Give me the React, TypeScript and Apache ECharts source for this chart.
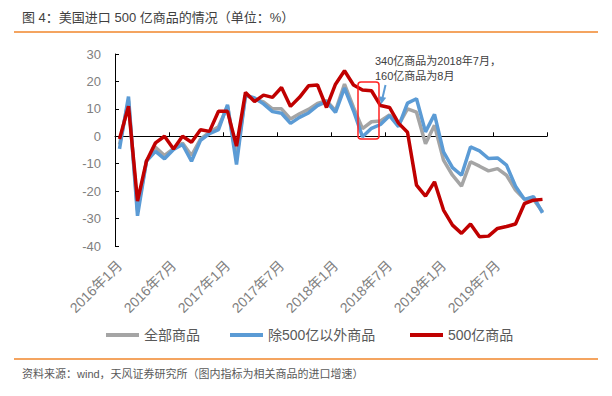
import React, { useEffect, useRef } from "react";
import * as echarts from "echarts";

const categories = [
  "2016年1月","2016年2月","2016年3月","2016年4月","2016年5月","2016年6月",
  "2016年7月","2016年8月","2016年9月","2016年10月","2016年11月","2016年12月",
  "2017年1月","2017年2月","2017年3月","2017年4月","2017年5月","2017年6月",
  "2017年7月","2017年8月","2017年9月","2017年10月","2017年11月","2017年12月",
  "2018年1月","2018年2月","2018年3月","2018年4月","2018年5月","2018年6月",
  "2018年7月","2018年8月","2018年9月","2018年10月","2018年11月","2018年12月",
  "2019年1月","2019年2月","2019年3月","2019年4月","2019年5月","2019年6月",
  "2019年7月","2019年8月","2019年9月","2019年10月","2019年11月","2019年12月",
];

const allGoods = [
  -3, 13, -27, -9, -4, -7, -4.5, -2.5, -7, -1, 1.5, 3.5,
  11, -8, 15, 13.5, 12.5, 10, 10, 6.3, 8.2, 9.8, 12, 13,
  9.3, 19, 10.5, 2.8, 5.3, 5.6, 7.8, 4.1, 10, 8.8, -2.7, 4,
  -8.7, -14.2, -18.2, -9.3, -10.9, -12.6, -11.8, -14.2, -19.6, -23, -23, -27.5,
];

const exclGoods = [
  -4.6, 14.5, -29, -9, -5.5, -8.2, -4.8, -3, -9.1, -1.5, 1, 2.4,
  11.5, -10.3, 15, 14, 11.8, 9, 8.4, 4.7, 6.9, 8.5, 11.2, 12.6,
  8.7, 17.6, 9.3, -0.2, 2.9, 4.3, 7.5, 3.5, 12.1, 13.7, 1.6, 8,
  -5.7, -11.4, -14.2, -3.9, -5.3, -8.1, -7.9, -10.5, -18.2, -23, -22, -27.9,
];

const goods500 = [
  -1, 11, -23.6, -9, -2.4, 0, -4.6, 0, -2.2, 2.4, 1.8, 9.1,
  9.1, -3.6, 16, 12.7, 15, 14.2, 17.8, 10.9, 14.2, 18.4, 18.7, 10.5,
  19, 23.9, 18.7, 16.9, 16.6, 11.2, 10.5, 4.8, 1.5, -17.8, -21.8, -16.6,
  -26.9, -32.4, -35.4, -32, -36.6, -36.4, -33.6, -32.9, -32, -24.5, -23.3, -23,
];

const seriesNames = ["全部商品", "除500亿以外商品", "500亿商品"];
const seriesColors = ["#A5A5A5", "#5B9BD5", "#C00000"];

const titleText = "图 4：美国进口 500 亿商品的情况（单位：%）";
const sourceText = "资料来源：wind，天风证券研究所（图内指标为相关商品的进口增速）";
const noteLines = ["340亿商品为2018年7月，", "160亿商品为8月"];

const FONT = "'Liberation Sans', 'Noto Sans CJK SC', sans-serif";

export default function App() {
  const ref = useRef<HTMLDivElement>(null);

  useEffect(() => {
    if (!ref.current) return;
    const chart = echarts.init(ref.current, null, { renderer: "svg" });
    const dataSets = [allGoods, exclGoods, goods500];

    const legendLefts = [106, 230, 410];

    chart.setOption({
      animation: false,
      backgroundColor: "#ffffff",
      textStyle: { fontFamily: FONT },
      grid: { left: 115, right: 65, top: 54, bottom: 150, containLabel: false },
      legend: seriesNames.map((n, i) => ({
        data: [n],
        left: legendLefts[i],
        top: 328,
        padding: 0,
        icon: "rect",
        itemWidth: 33,
        itemHeight: 4,
        textStyle: { color: "#595959", fontSize: 14, fontFamily: FONT },
      })),
      xAxis: [
        {
          type: "category",
          data: categories,
          position: "bottom",
          boundaryGap: true,
          axisLine: { show: false, onZero: false },
          axisTick: { show: false },
          axisLabel: {
            interval: 5,
            rotate: 45,
            margin: 17,
            color: "#808080",
            fontSize: 14,
            fontFamily: FONT,
          },
          splitLine: { show: false },
        },
        {
          type: "category",
          data: categories,
          position: "bottom",
          boundaryGap: true,
          axisLine: { show: true, onZero: true, lineStyle: { color: "#000000", width: 1 } },
          axisTick: {
            show: true,
            inside: true,
            interval: 5,
            length: 4,
            lineStyle: { color: "#000000" },
          },
          axisLabel: { show: false },
          splitLine: { show: false },
        },
      ],
      yAxis: {
        type: "value",
        min: -40,
        max: 30,
        interval: 10,
        axisLine: { show: true, lineStyle: { color: "#000000", width: 1 } },
        axisTick: { show: true, inside: true, length: 4, lineStyle: { color: "#000000" } },
        axisLabel: { color: "#808080", fontSize: 13, margin: 14, fontFamily: FONT },
        splitLine: { show: false },
      },
      series: seriesNames.map((n, i) => ({
        name: n,
        type: "line",
        xAxisIndex: 0,
        data: dataSets[i],
        showSymbol: false,
        symbol: "none",
        color: seriesColors[i],
        lineStyle: { color: seriesColors[i], width: 3.5 },
        z: 2 + i,
      })),
      graphic: [
        {
          type: "text",
          x: 22,
          y: 17,
          style: {
            text: titleText,
            fill: "#404040",
            font: `13px ${FONT}`,
            verticalAlign: "middle",
          },
        },
        {
          type: "line",
          shape: { x1: 14, y1: 32, x2: 598, y2: 32 },
          style: { stroke: "#F4A460", lineWidth: 2 },
        },
        {
          type: "line",
          shape: { x1: 14, y1: 359, x2: 598, y2: 359 },
          style: { stroke: "#F4A460", lineWidth: 2 },
        },
        {
          type: "text",
          x: 22,
          y: 374,
          style: {
            text: sourceText,
            fill: "#595959",
            font: `11px ${FONT}`,
            verticalAlign: "middle",
          },
        },
        {
          type: "text",
          x: 375,
          y: 61,
          style: {
            text: noteLines[0],
            fill: "#404040",
            font: `11px ${FONT}`,
            verticalAlign: "middle",
          },
        },
        {
          type: "text",
          x: 375,
          y: 76,
          style: {
            text: noteLines[1],
            fill: "#404040",
            font: `11px ${FONT}`,
            verticalAlign: "middle",
          },
        },
        {
          type: "rect",
          shape: { x: 358, y: 82, width: 21, height: 57, r: 3 },
          style: { fill: "none", stroke: "#FF2020", lineWidth: 1.5 },
          z: 100,
        },
        {
          type: "line",
          shape: { x1: 385.5, y1: 85, x2: 382.6, y2: 97.5 },
          style: { stroke: "#5B9BD5", lineWidth: 2 },
          z: 100,
        },
        {
          type: "polygon",
          shape: { points: [[381, 104.5], [386.2, 97.8], [379.2, 96.2]] },
          style: { fill: "#5B9BD5" },
          z: 100,
        },
      ],
    });

    return () => chart.dispose();
  }, []);

  return (
    <div
      ref={ref}
      style={{ position: "fixed", left: 0, top: 0, width: 612, height: 396, background: "#fff" }}
    />
  );
}
